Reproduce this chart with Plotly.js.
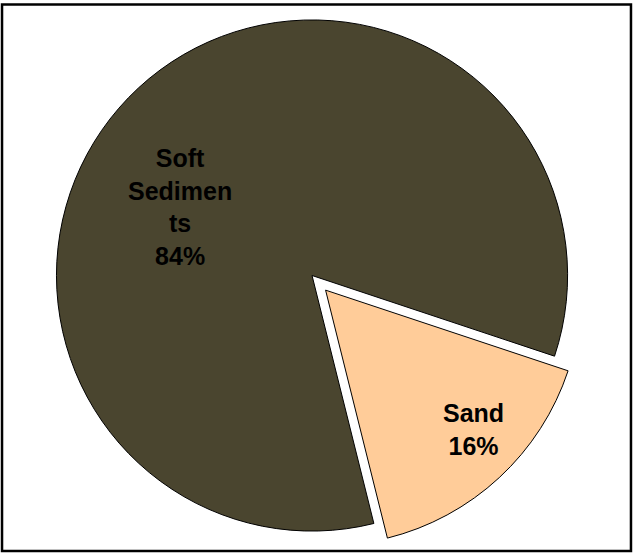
<!DOCTYPE html>
<html>
<head>
<meta charset="utf-8">
<script src="https://cdn.plot.ly/plotly-3.0.1.min.js"></script>
<style>html,body{margin:0;padding:0;background:#fff;}#chart{width:633px;height:554px;}</style>
</head>
<body>
<div id="chart"></div>
<script>
const categories = ["Soft Sediments", "Sand"];
const displayLabels = ["Soft<br>Sedimen<br>ts", "Sand"];
const values = [84, 16];
const sliceColors = ["#4a452f", "#ffcc99"];
const pulls = [0, 0.078];

// label anchor positions (paper fractions) for each slice's text
const labelX = [0.2840, 0.7480];
const labelY = [0.6270, 0.2240];

const total = values.reduce((a, b) => a + b, 0);

const trace = {
  type: "pie",
  labels: categories,
  values: values,
  textinfo: "none",
  sort: false,
  direction: "clockwise",
  rotation: 166,
  pull: pulls,
  marker: { colors: sliceColors, line: { color: "#000000", width: 1 } },
  hoverinfo: "label+percent",
  showlegend: false,
  domain: { x: [0.0577, 0.9282], y: [0.0054, 1] }
};

const annotations = categories.map((c, i) => ({
  xref: "paper", yref: "paper",
  x: labelX[i], y: labelY[i],
  xanchor: "center", yanchor: "middle",
  showarrow: false,
  align: "center",
  text: displayLabels[i] + "<br>" + Math.round(values[i] / total * 100) + "%",
  font: { family: "Arial, 'Liberation Sans', sans-serif", size: 25, color: "#000000", weight: "bold" }
}));

const layout = {
  width: 633,
  height: 554,
  margin: { l: 0, r: 0, t: 0, b: 0 },
  paper_bgcolor: "#ffffff",
  showlegend: false,
  annotations: annotations,
  shapes: [{
    type: "rect", xref: "paper", yref: "paper",
    x0: 0.0032, x1: 0.9968, y0: 0.0054, y1: 0.9918,
    line: { color: "#000000", width: 2.5 }, fillcolor: "rgba(0,0,0,0)"
  }]
};

Plotly.newPlot("chart", [trace], layout, { displayModeBar: false, staticPlot: true });
</script>
</body>
</html>
